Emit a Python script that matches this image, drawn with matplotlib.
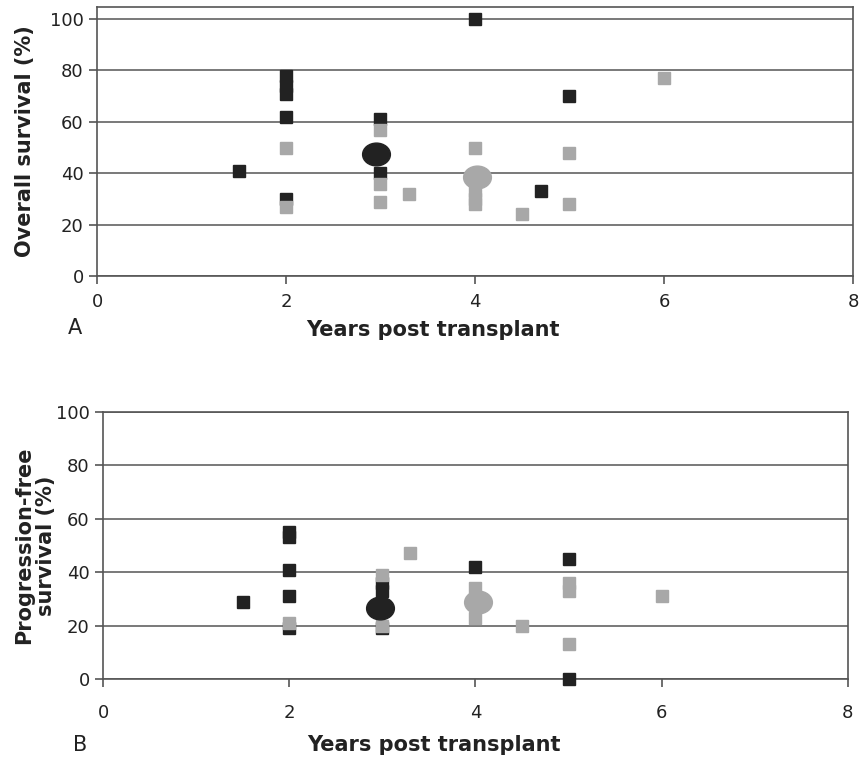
import matplotlib
matplotlib.use("Agg")
import matplotlib.pyplot as plt
from matplotlib.path import Path
from matplotlib.transforms import Affine2D

# Panel A: overall survival
a_black_x = [1.5, 2, 2, 2, 2, 2, 3, 3, 4, 4.7, 5]
a_black_y = [41, 78, 74, 71, 62, 30, 61, 40, 100, 33, 70]
a_gray_x = [2, 2, 3, 3, 3, 3.3, 4, 4, 4, 4, 4.5, 5, 5, 6]
a_gray_y = [50, 27, 57, 36, 29, 32, 50, 33, 30, 28, 24, 48, 28, 77]
a_mean_x = [2.95, 4.02]
a_mean_y = [47.5, 38.5]

# Panel B: progression-free survival
b_black_x = [1.5, 2, 2, 2, 2, 2, 3, 3, 3, 4, 5, 5]
b_black_y = [29, 55, 53, 41, 31, 19, 36, 33, 19, 42, 45, 0]
b_gray_x = [2, 3, 3, 3.3, 4, 4, 4.5, 5, 5, 5, 6]
b_gray_y = [21, 39, 20, 47, 34, 23, 20, 36, 33, 13, 31]
b_mean_x = [2.98, 4.03]
b_mean_y = [26.5, 29]

xticks = [0, 2, 4, 6, 8]
yticks = [0, 20, 40, 60, 80, 100]

BLACK = "#222222"
GRAY = "#a8a8a8"
GRID = "#6e6e6e"

plt.rcParams["font.family"] = "DejaVu Sans"

ellipse = Path.unit_circle().transformed(Affine2D().scale(1.0, 0.82))

fig = plt.figure(figsize=(8.6, 7.61), dpi=100)
ax_a = fig.add_axes([0.1128, 0.6373, 0.879, 0.3535])
ax_b = fig.add_axes([0.1198, 0.1078, 0.866, 0.3508])


def draw(ax, bx, by, gx, gy, mx, my, ytop, ylabel, xl_y, yl_x, xpad):
    ax.plot(bx, by, ls="none", marker="s", ms=8, color=BLACK, clip_on=False, zorder=3)
    ax.plot(gx, gy, ls="none", marker="s", ms=8, color=GRAY, clip_on=False, zorder=4)
    ax.plot(mx[0], my[0], ls="none", marker=ellipse, ms=20, color=BLACK, zorder=5)
    ax.plot(mx[1], my[1], ls="none", marker=ellipse, ms=20, color=GRAY, zorder=5)
    ax.set_xlim(0, 8)
    ax.set_ylim(0, ytop)
    ax.set_xticks(xticks)
    ax.set_yticks(yticks)
    ax.tick_params(labelsize=13, direction="out", length=6, width=1.2,
                   color="#555555", labelcolor="#222222")
    ax.tick_params(axis="x", pad=xpad)
    ax.yaxis.grid(True, color=GRID, lw=1.3)
    ax.set_axisbelow(True)
    for s in ax.spines.values():
        s.set_color("#555555")
        s.set_linewidth(1.2)
    ax.set_xlabel("Years post transplant", fontsize=15, fontweight="bold", color="#222222")
    ax.xaxis.set_label_coords(0.444, xl_y)
    ax.set_ylabel(ylabel, fontsize=15, fontweight="bold", color="#222222",
                  linespacing=1.15)
    ax.yaxis.set_label_coords(yl_x, 0.5)


draw(ax_a, a_black_x, a_black_y, a_gray_x, a_gray_y, a_mean_x, a_mean_y,
     104.7, "Overall survival (%)", -0.164, -0.082, 6)
draw(ax_b, b_black_x, b_black_y, b_gray_x, b_gray_y, b_mean_x, b_mean_y,
     100, "Progression-free\nsurvival (%)", -0.21, -0.063, 12)

fig.text(0.087, 0.569, "A", fontsize=15, va="center", ha="center", color="#222222")
fig.text(0.093, 0.021, "B", fontsize=15, va="center", ha="center", color="#222222")

fig.savefig("out.png", dpi=100)
